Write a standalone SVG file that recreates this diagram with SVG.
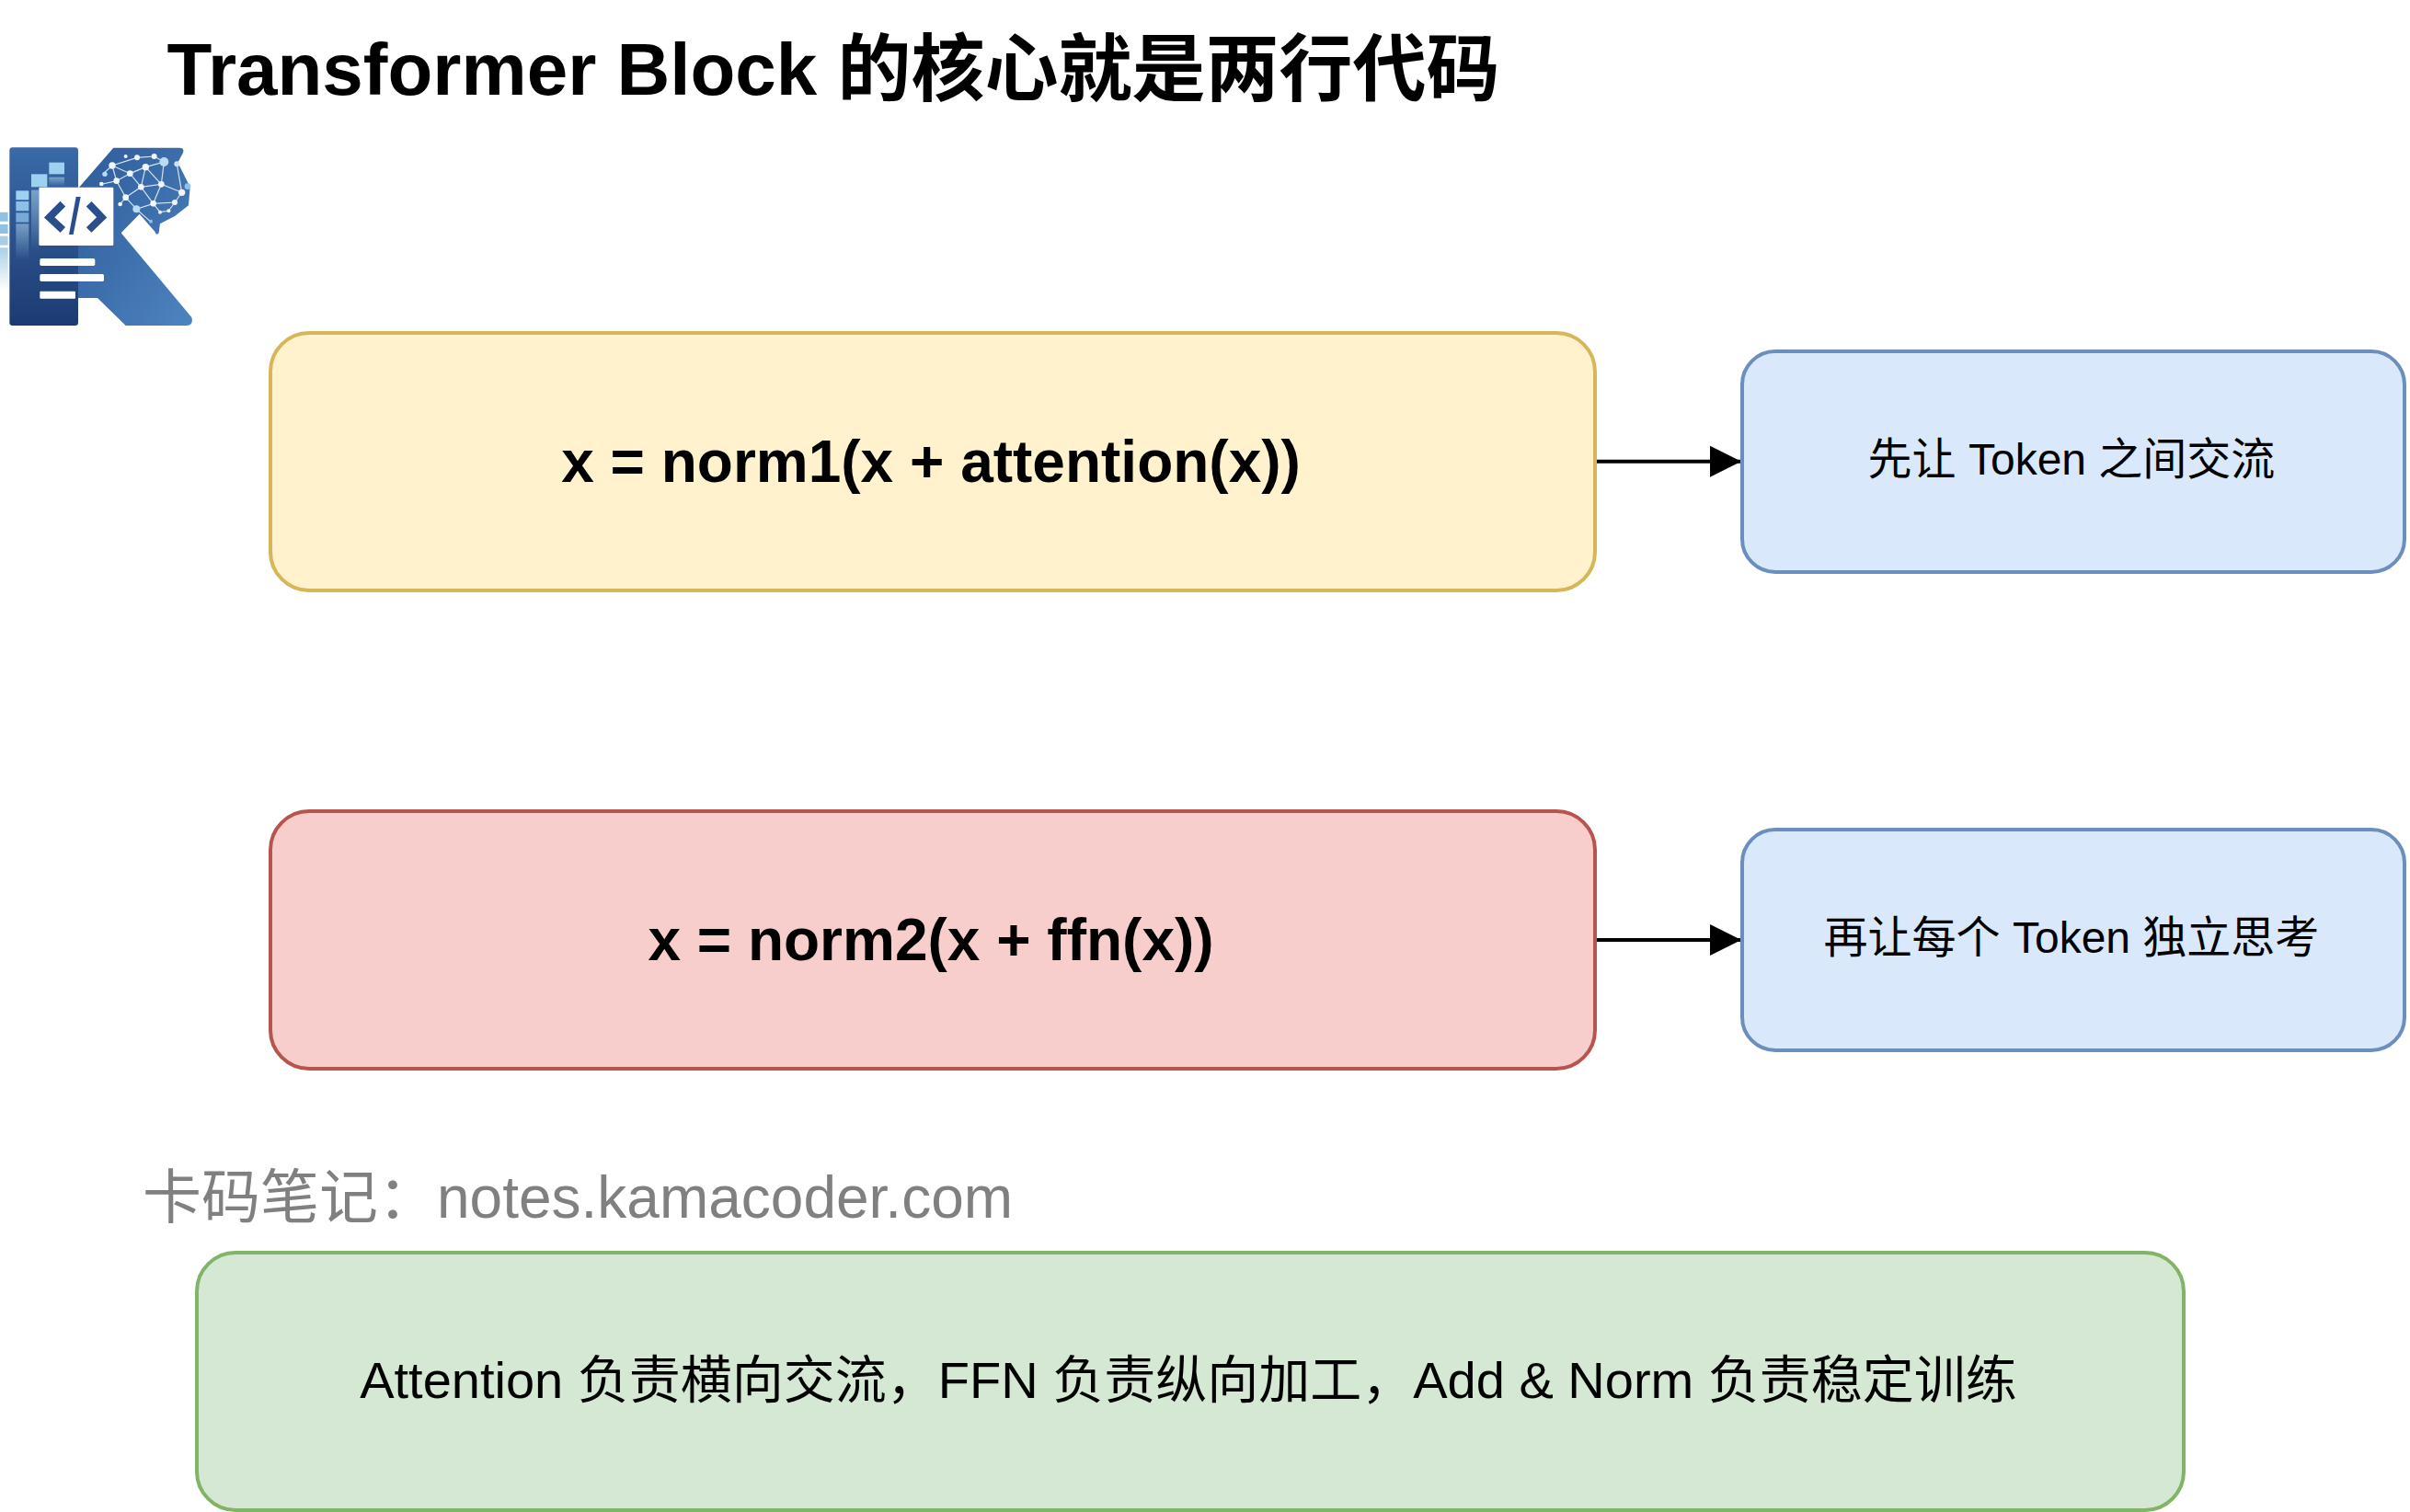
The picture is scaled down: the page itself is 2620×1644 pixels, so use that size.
<svg xmlns="http://www.w3.org/2000/svg" width="2620" height="1644" viewBox="0 0 2620 1644">
<style>
text{font-family:"Liberation Sans","Noto Sans CJK SC",sans-serif;text-anchor:middle;dominant-baseline:alphabetic;fill:#000}
.b{font-weight:700}
.box{stroke-width:4}
.y{fill:#fff2cc;stroke:#d6b656}.r{fill:#f8cecc;stroke:#b85450}.bl{fill:#dae8fc;stroke:#6c8ebf}.g{fill:#d5e8d4;stroke:#82b366}
.c{fill:none;stroke:#000;stroke-width:4;marker-end:url(#a)}
.n{stroke:#d6e6f5;stroke-width:3.500;fill:none}.d{fill:#f0f6fb}.w{fill:#fff}
</style>
<defs>
<marker id="a" markerUnits="userSpaceOnUse" markerWidth="34" markerHeight="36" refX="34" refY="18" orient="auto"><path d="M0 1L34 18L0 35Z" fill="#000"/></marker>
<linearGradient id="l1" x1="0" y1="0" x2="0" y2="1"><stop offset="0" stop-color="#3a6aa8"/><stop offset="1" stop-color="#1d3a72"/></linearGradient>
<linearGradient id="l2" x1="0" y1="0" x2="1" y2="1"><stop offset="0" stop-color="#2f5a9a"/><stop offset="1" stop-color="#4d84c0"/></linearGradient>
<linearGradient id="l3" x1="0" y1="0" x2="0" y2="1"><stop offset="0" stop-color="#a9d0ea"/><stop offset="1" stop-color="#a9d0ea" stop-opacity="0"/></linearGradient>
</defs>
<text class="b" x="906" y="103" font-size="80">Transformer Block 的核心就是两行代码</text>
<g id="logo" transform="translate(0 140) scale(.3333)">
<path d="M0 272H26V302H0ZM0 312H26V342H0Z" fill="#8fc1e2"/><path d="M0 350H26V380H0Z" fill="#a9cde6"/>
<rect x="0" y="388" width="26" height="140" fill="url(#l3)"/>
<path d="M370 62H585Q604 62 596 80L580 110L620 190L615 250L570 285L522 310L518 340Q510 350 505 335L455 278L395 340L625 615Q632 640 610 642H410L318 552H250V200Z" fill="url(#l2)"/>
<rect x="31" y="61" width="224" height="581" rx="10" fill="url(#l1)"/>
<g fill="#9ed0f0"><rect x="52" y="202" width="42" height="30"/><rect x="52" y="237" width="42" height="31" fill="#8cc0e4"/><rect x="52" y="274" width="42" height="31" fill="#77aad6"/><rect x="102" y="148" width="52" height="42"/><rect x="160" y="110" width="50" height="38"/></g>
<g fill="url(#l3)" opacity=".6"><rect x="52" y="310" width="42" height="120"/><rect x="102" y="200" width="24" height="200"/><rect x="160" y="158" width="50" height="30"/></g>
<path d="M335 148L366 120L447 94L503 90L535 108L475 125L424 146L366 120M366 120L380 170L424 146L460 190L526 181L475 125L460 190L410 224L380 170L335 180M424 146L475 125M526 181L593 208L570 240L500 244L460 190M500 244L526 181L535 108M410 224L445 262L500 244L522 272L550 268L570 240M410 224L392 246M445 262L490 302M593 208L577 115" class="n"/>
<g class="d"><circle cx="366" cy="120" r="11"/><circle cx="447" cy="94" r="9"/><circle cx="503" cy="90" r="9"/><circle cx="535" cy="108" r="15" fill="#b9dcf0"/><circle cx="475" cy="125" r="11"/><circle cx="424" cy="146" r="10"/><circle cx="380" cy="170" r="10"/><circle cx="460" cy="190" r="10"/><circle cx="526" cy="181" r="10"/><circle cx="593" cy="208" r="11"/><circle cx="570" cy="240" r="9"/><circle cx="500" cy="244" r="10"/><circle cx="410" cy="224" r="10"/><circle cx="445" cy="262" r="12" fill="#b9dcf0"/><circle cx="342" cy="148" r="8" fill="#b9dcf0"/><circle cx="331" cy="180" r="7"/><circle cx="392" cy="246" r="7"/><circle cx="492" cy="302" r="6" fill="#8cc4e6"/><circle cx="612" cy="188" r="10" fill="#8cc4e6"/><circle cx="577" cy="115" r="9" fill="#cfe5f5"/><circle cx="522" cy="272" r="6"/><circle cx="550" cy="268" r="6"/><circle cx="410" cy="90" r="6"/></g>
<rect x="127" y="191" width="243" height="190" rx="4" class="w"/>
<path d="M205 245L161 289L205 330M290 245L332 289L290 330" fill="none" stroke="#2a4f8c" stroke-width="24"/>
<path d="M248 222H263L239 345H225Z" fill="#2a4f8c"/>
<rect x="130" y="423" width="180" height="24" rx="5" class="w"/><rect x="130" y="474" width="209" height="24" rx="5" class="w"/><rect x="130" y="530" width="116" height="24" rx="3" class="w"/>
</g>
<g id="connectors">
<path class="c" d="M1734 501.700H1893"/>
<path class="c" d="M1734 1022H1893"/>
</g>
<g id="n1"><rect class="box y" x="294" y="362" width="1440" height="280" rx="42"/><text class="b" x="1012" y="524" font-size="64">x = norm1(x + attention(x))</text></g>
<g id="n2"><rect class="box r" x="294" y="882" width="1440" height="280" rx="42"/><text class="b" x="1012" y="1044" font-size="64">x = norm2(x + ffn(x))</text></g>
<g id="n3"><rect class="box bl" x="1894" y="382" width="720" height="240" rx="36"/><text x="2252" y="516" font-size="48">先让 Token 之间交流</text></g>
<g id="n4"><rect class="box bl" x="1894" y="902" width="720" height="240" rx="36"/><text x="2252" y="1036" font-size="48">再让每个 Token 独立思考</text></g>
<text x="628" y="1324" font-size="64" style="fill:#808080">卡码笔记：notes.kamacoder.com</text>
<g id="n5"><rect class="box g" x="214" y="1362" width="2160" height="280" rx="42"/><text x="1292" y="1520" font-size="56">Attention 负责横向交流，FFN 负责纵向加工，Add &amp; Norm 负责稳定训练</text></g>
</svg>
